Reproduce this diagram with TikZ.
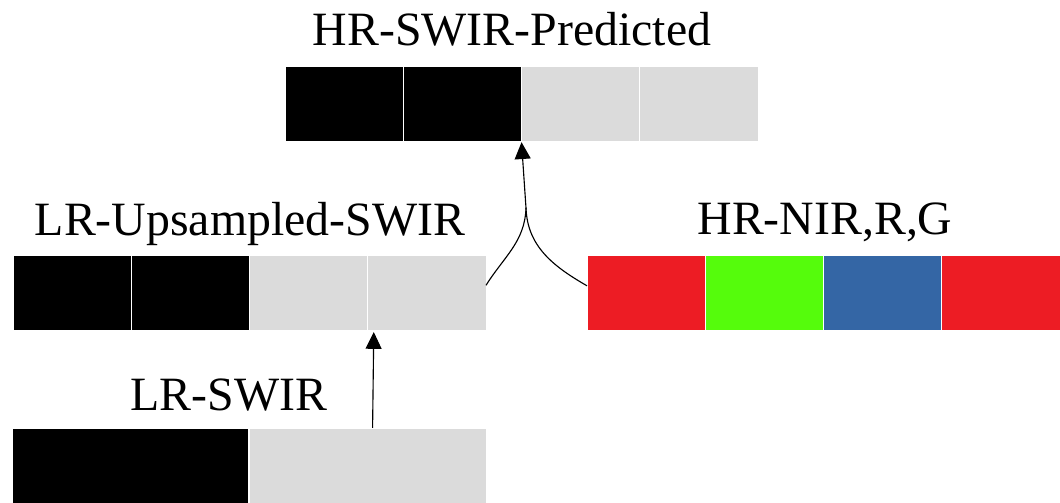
\documentclass[tikz,border=0pt]{standalone}
\usepackage{fontspec}
\setmainfont{Liberation Serif}
\usetikzlibrary{arrows.meta}

\definecolor{cellgray}{HTML}{DBDBDB}
\definecolor{nirred}{HTML}{ED1C24}
\definecolor{nirgreen}{HTML}{55FC0C}
\definecolor{nirblue}{HTML}{3466A5}

\begin{document}
\begin{tikzpicture}[x=0.025cm, y=-0.025cm,
  cell/.style={draw=white, line width=0.5pt, anchor=north west, inner sep=0pt, outer sep=0pt,
    minimum width=2.956cm, minimum height=1.875cm},
  wide/.style={cell, minimum width=5.9125cm},
  lbl/.style={font=\fontsize{34}{40}\selectfont, anchor=base, inner sep=0pt},
  link/.style={line width=0.8pt},
  tip/.style={-{Triangle[width=0.4cm, length=0.42cm]}}]
\useasboundingbox (0,0) rectangle (1060,503);

% Top (predicted) bar
\node[lbl] (tlbl) at (512,46) {HR-SWIR-Predicted};
\node[cell, fill=black]    (t1) at (285,66) {};
\node[cell, fill=black]    (t2) at (403.25,66) {};
\node[cell, fill=cellgray] (t3) at (521.5,66) {};
\node[cell, fill=cellgray] (t4) at (639.75,66) {};

% Left (upsampled) bar
\node[lbl] (ulbl) at (250,236) {LR-Upsampled-SWIR};
\node[cell, fill=black]    (u1) at (13,255) {};
\node[cell, fill=black]    (u2) at (131.25,255) {};
\node[cell, fill=cellgray] (u3) at (249.5,255) {};
\node[cell, fill=cellgray] (u4) at (367.75,255) {};

% Right (guide) bar
\node[lbl] (hlbl) at (825,235) {HR-NIR,R,G};
\node[cell, fill=nirred]   (h1) at (587,255.5) {};
\node[cell, fill=nirgreen] (h2) at (705.25,255.5) {};
\node[cell, fill=nirblue]  (h3) at (823.5,255.5) {};
\node[cell, fill=nirred]   (h4) at (941.75,255.5) {};

% Bottom (low res) bar
\node[lbl] (llbl) at (229,411) {LR-SWIR};
\node[wide, fill=black]    (l1) at (12,428) {};
\node[wide, fill=cellgray] (l2) at (249.5,428) {};

% Connectors
\coordinate (j) at (526,208);
\draw[link] ([yshift=0.18cm]u4.east) to[out=58, in=-92] (j);
\draw[link] ([yshift=0.18cm]h1.west) to[out=150, in=-88] (j);
\draw[link, tip] (j) -- ([yshift=-0.03cm]t2.south east);
\draw[link, tip] ([xshift=0.12cm]l2.north) -- ([xshift=0.15cm, yshift=-0.05cm]u3.south east);
\end{tikzpicture}
\end{document}
